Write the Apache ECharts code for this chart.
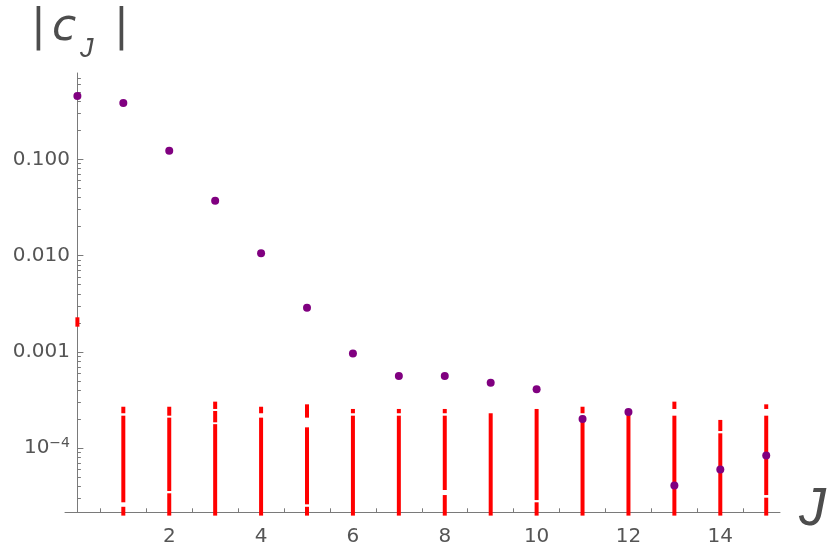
<!DOCTYPE html>
<html>
<head>
<meta charset="utf-8">
<script src="https://cdn.jsdelivr.net/npm/echarts@6/dist/echarts.min.js"></script>
<style>
html,body{margin:0;padding:0;background:#fff;}
#chart{width:828px;height:543px;}
</style>
</head>
<body>
<div id="chart"></div>
<script>
// ---- data ----
const J = [0,1,2,3,4,5,6,7,8,9,10,11,12,13,14,15];
const cAbs = [0.455, 0.385, 0.123, 0.0372, 0.0106, 0.00288, 0.000966, 0.000562, 0.000562,
              0.000479, 0.000409, 0.000201, 0.000238, 4.12e-5, 6.04e-5, 8.44e-5];

// red bar segments (J, low, high)
const segJ  = [0, 1,1,1, 2,2,2, 3,3,3, 4,4, 5,5,5, 6,6, 7,7, 8,8,8, 9, 10,10, 11,11, 12, 13,13, 14,14, 15,15,15];
const segLo = [1.83e-3,
  2.0e-5, 2.75e-5, 2.31e-4,
  2.0e-5, 3.60e-5, 2.18e-4,
  2.0e-5, 1.86e-4, 2.56e-4,
  2.0e-5, 2.31e-4,
  2.0e-5, 2.62e-5, 2.08e-4,
  2.0e-5, 2.31e-4,
  2.0e-5, 2.31e-4,
  2.0e-5, 3.69e-5, 2.31e-4,
  2.0e-5,
  2.0e-5, 2.90e-5,
  2.0e-5, 2.31e-4,
  2.0e-5,
  2.0e-5, 2.56e-4,
  2.0e-5, 1.51e-4,
  2.0e-5, 3.27e-5, 2.56e-4];
const segHi = [2.29e-3,
  2.47e-5, 2.18e-4, 2.70e-4,
  3.41e-5, 2.08e-4, 2.70e-4,
  1.78e-4, 2.44e-4, 3.05e-4,
  2.08e-4, 2.70e-4,
  2.47e-5, 1.65e-4, 2.86e-4,
  2.18e-4, 2.56e-4,
  2.18e-4, 2.56e-4,
  3.27e-5, 2.18e-4, 2.56e-4,
  2.31e-4,
  2.75e-5, 2.56e-4,
  2.18e-4, 2.70e-4,
  2.56e-4,
  2.18e-4, 3.05e-4,
  1.43e-4, 1.97e-4,
  3.07e-5, 2.18e-4, 2.86e-4];

const xMajorTicks = [2,4,6,8,10,12,14];
const xMinorTicks = [0.5,1,1.5,2.5,3,3.5,4.5,5,5.5,6.5,7,7.5,8.5,9,9.5,10.5,11,11.5,12.5,13,13.5,14.5,15];
const yMajorTicks = [1e-4, 1e-3, 1e-2, 1e-1];
const yTickLabels = ['{b|10}{s|\u22124}', '0.001', '0.010', '0.100'];

const yMin = 2.165e-5, yMax = 0.787;
const xMin = -0.27, xMax = 15.3;

// ---- build ----
const L = Math.log10;
const yMinorTicks = [];
for (let n = -5; n <= -1; n++) {
  for (let k = 2; k <= 9; k++) {
    const v = k * Math.pow(10, n);
    if (v > yMin && v < yMax) yMinorTicks.push(L(v));
  }
}
const labelMap = {};
yMajorTicks.forEach((v, i) => { labelMap[Math.round(L(v))] = yTickLabels[i]; });

const scatterData = J.map((j, i) => [j, L(cAbs[i])]);
const segData = segJ.map((j, i) => [j, L(segLo[i]), L(segHi[i])]);

const axisColor = '#7a7a7a';
const textColor = '#555';
const FONT = 'DejaVu Sans';
const TFS = 20;

const chart = echarts.init(document.getElementById('chart'), null, {renderer: 'canvas'});
chart.setOption({
  animation: false,
  backgroundColor: '#fff',
  grid: {left: 65, right: 48, top: 73, bottom: 30.7, outerBoundsMode: 'none'},
  xAxis: [{
    type: 'value', min: xMin, max: xMax, position: 'bottom',
    axisLine: {onZero: false, lineStyle: {color: axisColor, width: 1}},
    axisTick: {inside: true, length: 7, customValues: xMajorTicks, lineStyle: {color: axisColor}},
    axisLabel: {customValues: xMajorTicks, margin: 14, color: textColor, fontSize: TFS, fontFamily: FONT},
    splitLine: {show: false}
  }, {
    type: 'value', min: xMin, max: xMax, position: 'bottom',
    axisLine: {show: false, onZero: false},
    axisTick: {inside: true, length: 4, customValues: xMinorTicks, lineStyle: {color: axisColor}},
    axisLabel: {show: false},
    splitLine: {show: false}
  }],
  yAxis: [{
    type: 'value', min: L(yMin), max: L(yMax), position: 'left',
    axisLine: {show: true, onZero: true, onZeroAxisIndex: 0, lineStyle: {color: axisColor, width: 1}},
    axisTick: {inside: true, length: 6, customValues: yMajorTicks.map(L), lineStyle: {color: axisColor}},
    axisLabel: {
      customValues: yMajorTicks.map(L), margin: -5, color: textColor, fontSize: TFS, fontFamily: FONT,
      formatter: v => labelMap[Math.round(v)],
      rich: {
        b: {fontSize: TFS, fontFamily: FONT, color: textColor},
        s: {fontSize: 14, fontFamily: FONT, color: textColor, padding: [0, 0, 10, 0]}
      }
    },
    splitLine: {show: false}
  }, {
    type: 'value', min: L(yMin), max: L(yMax), position: 'left',
    axisLine: {show: false, onZero: true, onZeroAxisIndex: 0},
    axisTick: {inside: true, length: 3.5, customValues: yMinorTicks, lineStyle: {color: axisColor}},
    axisLabel: {show: false},
    splitLine: {show: false}
  }],
  series: [{
    type: 'custom',
    clip: false,
    z: 3,
    data: segData,
    renderItem: function (params, api) {
      const lo = api.coord([api.value(0), api.value(1)]);
      const hi = api.coord([api.value(0), api.value(2)]);
      return {
        type: 'rect',
        shape: {x: lo[0] - 2, y: hi[1], width: 4, height: lo[1] - hi[1]},
        style: {fill: '#ff0000'}
      };
    }
  }, {
    type: 'scatter',
    z: 4,
    symbol: 'circle',
    symbolSize: 8,
    itemStyle: {color: '#800080', opacity: 1},
    data: scatterData
  }],
  graphic: [
    {type: 'text', left: 31, top: 7, style: {text: '|', font: '44px "DejaVu Sans"', fill: '#4d4d4d'}},
    {type: 'text', left: 52, top: 7, style: {text: 'c', font: 'italic 44px "DejaVu Sans"', fill: '#4d4d4d'}},
    {type: 'text', left: 80, top: 36, style: {text: 'J', font: 'italic 27px "Liberation Sans"', fill: '#4d4d4d'}},
    {type: 'text', left: 114, top: 7, style: {text: '|', font: '44px "DejaVu Sans"', fill: '#4d4d4d'}},
    {type: 'text', left: 799, top: 483, style: {text: 'J', font: 'italic 54px "Liberation Sans"', fill: '#4d4d4d'}}
  ]
});
</script>
</body>
</html>
